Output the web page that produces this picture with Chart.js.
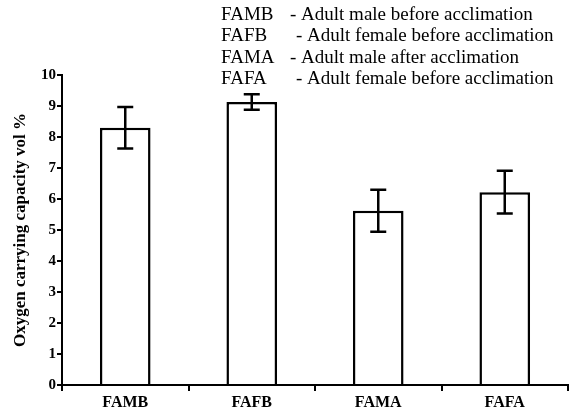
<!DOCTYPE html>
<html>
<head>
<meta charset="utf-8">
<script src="https://cdn.jsdelivr.net/npm/chart.js@4"></script>
<style>
  html, body { margin: 0; padding: 0; background: #fff; }
  #wrap { width: 574px; height: 412px; }
</style>
</head>
<body>
<div id="wrap"><canvas id="chart" width="574" height="412"></canvas></div>
<script>
// Data
const CATEGORIES = ['FAMB', 'FAFB', 'FAMA', 'FAFA'];
const MEANS = [8.3, 9.13, 5.62, 6.22];
const ERRORS = [0.67, 0.25, 0.68, 0.69];
const KEY_CODES = ['FAMB', 'FAFB', 'FAMA', 'FAFA'];
const KEY_TEXT = [
    '- Adult male before acclimation',
    '- Adult female before acclimation',
    '- Adult male after acclimation',
    '- Adult female before acclimation'
];
const Y_TICKS = [0, 1, 2, 3, 4, 5, 6, 7, 8, 9, 10];

const FONT = '"Liberation Serif", "Times New Roman", serif';

// Error bars drawn from MEANS / ERRORS through the scales
const errorBars = {
    id: 'errorBars',
    afterDatasetsDraw(chart) {
        const { ctx, scales: { x, y } } = chart;
        ctx.save();
        ctx.strokeStyle = '#000';
        ctx.lineWidth = 2.5;
        MEANS.forEach((m, i) => {
            const px = x.getPixelForValue(i);
            const top = y.getPixelForValue(m + ERRORS[i]);
            const bot = y.getPixelForValue(m - ERRORS[i]);
            ctx.beginPath();
            ctx.moveTo(px, top); ctx.lineTo(px, bot);
            ctx.moveTo(px - 8, top); ctx.lineTo(px + 8, top);
            ctx.moveTo(px - 8, bot); ctx.lineTo(px + 8, bot);
            ctx.stroke();
        });
        ctx.restore();
    }
};

// Key text block at the top
const keyText = {
    id: 'keyText',
    afterDraw(chart) {
        const ctx = chart.ctx;
        ctx.save();
        ctx.fillStyle = '#000';
        ctx.font = '19px ' + FONT;
        ctx.textBaseline = 'middle';
        KEY_CODES.forEach((code, i) => {
            const yy = 15 + i * 21.5;
            ctx.fillText(code, 221, yy);
            ctx.fillText(KEY_TEXT[i], (code === 'FAFB' || code === 'FAFA') ? 296 : 290, yy);
        });
        ctx.restore();
    }
};

new Chart(document.getElementById('chart'), {
    type: 'bar',
    data: {
        labels: CATEGORIES,
        datasets: [{
            data: MEANS,
            backgroundColor: '#fff',
            borderColor: '#000',
            borderWidth: 2.5,
            borderSkipped: 'bottom',
            barPercentage: 0.4,
            categoryPercentage: 1.0
        }]
    },
    options: {
        responsive: false,
        animation: false,
        layout: { padding: { top: 75, right: 6, left: 0, bottom: 0 } },
        plugins: {
            legend: { display: false },
            tooltip: { enabled: false }
        },
        scales: {
            x: {
                grid: {
                    offset: true,
                    drawOnChartArea: false,
                    drawTicks: true,
                    tickLength: 6,
                    color: '#000',
                    lineWidth: 2
                },
                border: { color: '#000', width: 2 },
                ticks: {
                    color: '#000',
                    padding: 2,
                    font: { family: FONT, size: 16, weight: 'bold' }
                },
                afterFit: s => { s.height = 27; }
            },
            y: {
                min: 0,
                max: 10,
                afterBuildTicks: s => { s.ticks = Y_TICKS.map(v => ({ value: v })); },
                grid: {
                    drawOnChartArea: false,
                    drawTicks: true,
                    tickLength: 5,
                    color: '#000',
                    lineWidth: 2
                },
                border: { color: '#000', width: 2 },
                ticks: {
                    color: '#000',
                    padding: 1,
                    font: { family: FONT, size: 15, weight: 'bold' }
                },
                title: {
                    display: true,
                    text: 'Oxygen carrying capacity vol %',
                    color: '#000',
                    padding: { top: 10, bottom: 0 },
                    font: { family: FONT, size: 17, weight: 'bold' }
                },
                afterFit: s => { s.width = 62; }
            }
        }
    },
    plugins: [errorBars, keyText]
});
</script>
</body>
</html>
